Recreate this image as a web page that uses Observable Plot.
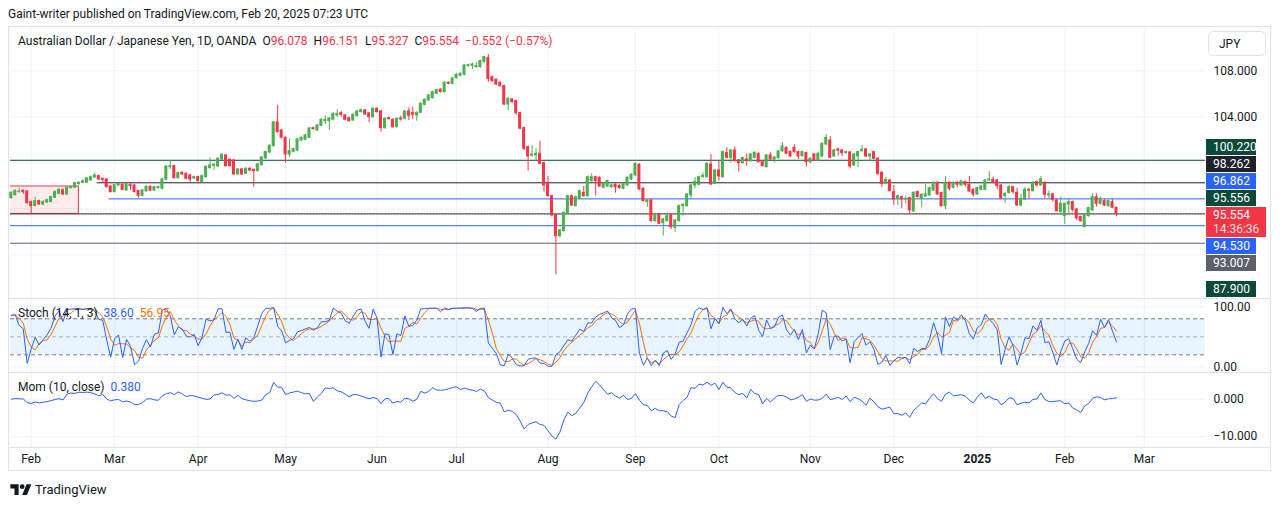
<!DOCTYPE html>
<html><head><meta charset="utf-8">
<script src="https://cdn.jsdelivr.net/npm/d3@7"></script>
<script src="https://cdn.jsdelivr.net/npm/@observablehq/plot@0.6"></script>
<style>
html,body{margin:0;padding:0;background:#fff;}
body{width:1281px;height:508px;position:relative;overflow:hidden;font-family:Roboto,"Noto Sans",sans-serif;color:#131722;font-size:12px;}
.abs{position:absolute;white-space:nowrap;}
.pane{position:absolute;left:0;}
.sep{position:absolute;height:1px;background:#e0e3eb;}
.lbl{position:absolute;left:1206px;color:#fff;font-size:12px;line-height:16px;padding-left:7px;box-sizing:border-box;}
.red{color:#f23645}
.sp{margin-left:6px}
</style></head><body>
<div class="abs" style="left:8px;top:6px;font-size:12px;line-height:16px;">Gaint-writer published on TradingView.com, Feb 20, 2025 07:23 UTC</div>
<div class="abs" style="left:8px;top:26px;width:1263px;height:445px;border:1px solid #e0e3eb;box-sizing:border-box;"></div>
<div id="panes"></div>
<div id="overlay"></div>
<script>
// ---------- DATA (daily bars, AUD/JPY, OANDA, from 2024-01-25 to 2025-02-20) ----------
const opens = [
96.93,97.19,97.45,97.57,97.51,96.58,96.23,96.67,96.38,96.55,
96.58,96.96,97.30,97.62,97.25,97.80,97.83,98.14,98.26,98.26,
98.46,98.72,98.84,98.61,98.55,97.94,97.45,98.03,98.09,97.59,
98.06,98.03,97.54,97.13,97.51,97.91,97.59,97.80,97.74,98.52,
99.62,99.71,98.67,99.13,99.04,98.90,98.64,98.75,98.32,98.75,
99.54,99.74,99.68,100.29,100.64,100.26,100.20,98.99,99.42,99.04,
99.48,99.39,99.28,99.80,100.38,100.90,101.45,103.51,102.81,102.17,
100.72,100.96,101.07,101.94,102.00,102.17,103.01,102.81,103.22,103.62,
103.62,103.74,104.12,104.32,104.12,103.88,103.68,104.06,104.41,104.55,
104.29,103.97,104.70,104.46,103.01,103.88,103.74,103.10,103.86,103.83,
104.46,104.32,104.12,104.35,105.04,105.42,105.62,106.00,106.35,106.15,
106.96,106.87,107.36,107.57,107.65,108.41,108.44,108.32,108.32,108.75,
109.10,107.45,107.22,106.96,106.67,105.07,105.51,105.36,104.32,103.01,
101.36,100.61,100.64,100.78,99.97,98.17,97.10,95.42,93.62,94.06,
95.57,97.10,96.23,96.87,97.39,97.10,98.41,98.75,98.70,97.83,
97.94,97.88,98.09,98.00,97.74,98.03,98.55,98.90,99.83,97.74,
96.58,96.72,94.93,95.48,94.75,94.93,95.42,94.35,94.93,96.23,
96.23,97.16,98.03,98.09,98.75,98.75,99.86,98.17,99.33,98.75,
100.84,100.43,101.07,100.20,99.97,100.29,100.14,100.43,100.78,100.06,
99.62,100.64,100.29,100.41,100.99,101.30,100.93,101.30,100.93,100.58,
100.84,100.06,100.72,100.20,100.55,101.59,101.94,100.55,101.16,101.07,
100.84,100.90,99.77,100.55,101.01,101.16,100.55,100.93,100.35,99.13,
98.17,98.46,97.45,96.87,97.01,96.81,96.93,95.77,97.45,96.87,
97.07,97.16,97.59,98.26,97.36,96.23,98.26,97.83,98.26,98.03,
98.32,98.09,97.65,97.25,97.65,97.65,98.46,98.52,98.46,98.03,
97.10,97.36,97.88,97.39,96.29,96.81,97.65,97.54,98.32,98.03,
98.26,97.16,97.25,96.72,95.71,95.36,96.38,96.58,95.94,95.28,
94.41,95.36,95.86,97.01,96.43,96.67,96.23,96.58,96.078];
const highs = [
97.48,97.65,97.80,97.65,97.59,96.67,97.01,96.75,96.72,96.84,
97.10,97.57,97.77,97.72,97.94,97.97,98.32,98.35,98.52,98.72,
98.84,99.10,98.93,98.67,98.61,98.00,98.12,98.26,98.17,98.26,
98.26,98.12,97.62,97.68,98.00,98.00,97.97,97.97,98.64,99.77,
100.20,99.80,99.19,99.22,99.13,98.99,98.84,98.84,98.93,99.74,
100.43,99.91,100.43,100.78,100.72,100.35,100.29,99.51,99.51,99.57,
99.57,99.45,99.94,100.55,101.01,101.57,103.59,104.99,102.90,102.26,
102.09,101.28,102.12,102.26,102.46,103.07,103.10,103.33,103.83,104.09,
103.94,104.35,104.61,104.46,104.20,103.97,104.26,104.55,104.67,104.64,
104.38,104.78,104.78,104.55,103.91,103.97,103.83,103.91,104.06,104.55,
104.78,104.84,104.43,105.22,105.57,105.94,106.23,106.41,106.44,107.04,
107.04,107.42,107.74,107.83,108.55,108.58,108.67,108.70,108.93,109.28,
109.42,107.54,107.30,107.04,106.75,105.65,105.59,105.45,104.41,103.10,
101.45,101.51,101.22,101.88,100.06,98.81,97.19,95.51,94.20,95.74,
97.19,97.19,97.10,97.62,97.94,98.84,99.04,98.84,98.78,98.26,
98.49,98.12,98.17,98.09,98.26,98.78,99.04,100.00,99.91,97.83,
96.81,96.81,95.51,95.57,95.16,95.62,95.51,95.07,96.32,96.43,
97.33,98.12,98.70,98.84,99.13,100.00,100.72,99.42,100.14,101.01,
101.30,101.16,101.36,100.29,100.49,100.78,100.81,100.96,100.87,100.14,
100.72,100.87,100.55,101.07,101.77,101.39,101.01,101.57,101.01,101.01,
100.93,100.43,100.81,100.93,101.74,102.46,102.29,101.16,101.30,101.16,
101.01,100.99,100.81,101.01,101.51,101.25,100.81,101.01,100.43,99.22,
98.75,98.55,98.03,97.19,97.10,97.10,97.01,97.48,97.54,97.30,
98.12,97.88,98.35,98.35,97.45,98.81,98.35,98.35,98.35,98.46,
98.41,98.81,97.74,97.88,98.03,98.55,99.25,98.75,98.55,98.12,
97.39,98.03,97.97,97.80,97.25,97.88,97.80,98.38,98.41,98.81,
98.35,97.54,97.33,96.81,97.01,96.52,96.81,96.67,96.03,95.36,
95.51,96.14,97.30,97.30,97.01,96.81,96.75,96.81,96.151];
const lows = [
96.84,97.10,97.36,97.25,96.41,95.57,96.17,96.29,96.26,96.46,
96.52,96.90,97.22,97.16,97.13,97.71,97.77,98.06,98.17,98.20,
98.38,98.64,98.46,98.26,97.80,97.39,97.39,97.97,97.57,97.54,
97.59,97.39,96.93,97.04,97.45,97.51,97.51,97.71,97.65,98.46,
99.42,98.58,98.58,98.90,98.52,98.26,98.55,98.32,98.26,98.67,
99.45,99.33,99.59,100.20,99.62,99.62,98.90,98.90,98.90,98.96,
99.25,97.88,99.19,99.71,100.29,100.81,101.36,102.58,102.09,99.97,
100.49,100.87,100.99,101.86,101.91,102.09,102.84,102.72,103.13,103.33,
102.81,103.65,103.97,103.97,103.65,103.54,103.59,103.97,104.32,104.12,
103.48,103.88,104.32,102.67,102.93,103.71,103.01,103.01,103.62,103.74,
103.68,103.74,103.62,104.26,104.96,105.33,105.54,105.91,106.06,106.06,
106.78,106.78,107.28,107.48,107.57,108.32,108.12,108.23,108.23,108.67,
107.01,107.01,106.72,106.58,104.99,104.55,105.19,104.12,102.87,101.07,
99.28,100.49,100.20,99.83,97.45,97.01,95.33,90.26,93.45,93.97,
95.48,96.20,96.14,96.78,97.01,97.01,98.32,97.10,97.86,97.74,
97.86,97.80,97.36,97.71,97.65,97.94,98.46,98.81,97.59,96.58,
96.14,94.84,94.84,94.61,93.62,94.84,94.20,93.97,94.84,95.36,
96.14,96.81,97.74,98.00,98.67,98.67,98.03,98.09,98.41,98.67,
100.35,99.97,100.06,99.19,99.88,99.71,100.06,100.35,99.97,99.62,
99.54,100.20,100.00,100.32,100.90,100.70,100.43,100.84,100.29,100.49,
99.62,99.91,100.12,100.12,100.46,101.51,100.35,100.46,100.58,100.55,
100.75,99.48,99.68,99.57,100.93,100.46,100.14,100.26,98.90,97.83,
98.09,97.45,96.29,96.29,96.00,96.43,95.57,95.68,96.93,96.09,
96.99,97.07,97.51,97.16,96.14,95.91,97.54,97.74,97.83,97.94,
97.88,97.42,97.01,97.16,97.57,97.57,98.38,98.17,97.68,96.78,
96.49,97.30,97.25,96.20,96.14,96.72,96.87,97.45,97.88,97.94,
96.87,96.87,96.58,95.71,95.62,94.64,95.57,95.71,94.99,94.84,
94.32,95.28,95.77,96.14,96.35,96.20,96.14,96.00,95.327];
const closes = [
97.39,97.54,97.50,97.45,96.49,96.23,96.67,96.38,96.58,96.75,
97.01,97.45,97.65,97.25,97.83,97.88,98.23,98.26,98.38,98.64,
98.75,98.90,98.55,98.52,97.88,97.45,98.06,98.17,97.65,98.17,
97.97,97.45,97.13,97.59,97.91,97.59,97.88,97.88,98.55,99.68,
99.71,98.67,99.10,98.99,98.61,98.55,98.75,98.41,98.84,99.65,
99.77,99.83,100.35,100.70,99.71,99.71,98.99,99.42,98.99,99.48,
99.33,99.28,99.86,100.46,100.93,101.48,103.51,102.67,102.17,100.72,
101.01,101.19,102.03,102.17,102.38,102.99,102.93,103.25,103.74,103.74,
103.86,104.26,104.26,104.17,103.74,103.62,104.17,104.46,104.58,104.20,
103.97,104.70,104.41,103.01,103.83,103.80,103.10,103.83,103.77,104.46,
104.09,104.17,104.35,105.13,105.48,105.86,106.15,106.32,106.15,106.96,
106.87,107.33,107.65,107.74,108.46,108.49,108.55,108.41,108.84,109.19,
107.30,107.10,106.81,106.67,105.07,105.57,105.28,104.32,102.96,101.22,
100.55,100.72,100.78,99.91,98.03,97.10,95.42,93.62,94.12,95.65,
97.10,96.29,97.01,97.54,97.10,98.75,98.75,98.41,97.94,98.17,
98.41,98.03,97.88,97.80,98.17,98.70,98.96,99.91,97.68,96.67,
96.72,94.93,95.42,94.70,95.07,95.36,94.41,94.99,96.23,96.35,
97.25,98.03,98.32,98.75,98.87,99.91,98.12,99.33,98.81,100.93,
100.43,101.07,100.14,99.97,100.41,100.20,100.72,100.87,100.06,99.71,
100.64,100.29,100.46,100.99,101.42,100.78,100.55,100.93,100.55,100.93,
100.06,100.35,100.20,100.78,101.65,102.17,100.43,101.07,101.07,100.84,
100.93,99.68,100.72,100.93,101.13,100.55,100.72,100.35,99.04,98.17,
98.52,97.54,96.81,97.10,96.81,96.87,95.86,97.39,97.01,97.22,
97.25,97.80,98.26,97.25,96.23,98.26,97.74,98.26,98.09,98.38,
98.09,97.51,97.25,97.80,97.94,98.46,98.55,98.32,97.97,96.87,
97.30,97.88,97.45,96.29,96.87,97.65,97.59,98.26,98.03,98.55,
97.22,97.25,96.78,95.80,96.43,96.43,96.58,95.91,95.17,94.93,
95.42,96.06,97.01,96.43,96.87,96.29,96.67,96.09,95.554];

const firstDay = "2024-01-25";
const holidays = ["2024-12-25", "2025-01-01"];
const monthNames = ["Jan","Feb","Mar","Apr","May","Jun","Jul","Aug","Sep","Oct","Nov","Dec"];

// horizontal levels drawn on the chart
const levelPrices = [100.220, 98.262, 96.862, 95.556, 94.530, 93.007, 87.900];
const levelColors = ["#0b4a3a", "#1e222d", "#2962ff", "#0b4a3a", "#2962ff", "#5d606b", "#0b4a3a"];
const levelStartDay = [null, "2024-02-23", "2024-02-28", null, null, null, null];
const zoneHigh = 97.94, zoneLow = 95.556, zoneEndDay = "2024-02-19";
const lastPrice = 95.554, countdown = "14:36:36";
const gridPrices = [92, 96, 100, 104, 108];
const priceTicks = [104, 108];
const stochLevels = [80, 50, 20];
const stochTicks = [0, 100];
const momTicks = [0, -10];
const legendMain = {name: "Australian Dollar / Japanese Yen, 1D, OANDA", O: "96.078", H: "96.151", L: "95.327", C: "95.554", chg: "\u22120.552 (\u22120.57%)"};
const legendStoch = {name: "Stoch (14, 1, 3)", k: "38.60", d: "56.95"};
const legendMom = {name: "Mom (10, close)", v: "0.380"};

// ---------- build ----------
const W = 1281, UP = "#4caf50", DOWN = "#f23645", GRID = "#f0f3fa", BLUE = "#2962ff", ORANGE = "#ff6d00";
const dates = [];
{
  const d = new Date(firstDay + "T00:00:00Z");
  while (dates.length < 305) {
    const wd = d.getUTCDay(), iso = d.toISOString().slice(0, 10);
    if (wd !== 0 && wd !== 6 && !holidays.includes(iso)) dates.push(iso);
    d.setUTCDate(d.getUTCDate() + 1);
  }
}
const idxOf = iso => dates.indexOf(iso);
const xDomain = [-0.2, 300.4];
const bars = closes.map((c, k) => ({i: k, o: opens[k], h: highs[k], l: lows[k], c, col: c >= opens[k] ? UP : DOWN}));
const monthTicks = [];
for (let k = 1; k < dates.length; k++) {
  const m = +dates[k].slice(5, 7), pm = +dates[k - 1].slice(5, 7);
  if (m !== pm && k <= xDomain[1]) monthTicks.push({i: k, label: m === 1 ? dates[k].slice(0, 4) : monthNames[m - 1], year: m === 1});
}
// indicators from the bars
const K = closes.map((c, k) => {
  const s = Math.max(0, k - 13);
  const hh = d3.max(highs.slice(s, k + 1)), ll = d3.min(lows.slice(s, k + 1));
  return 100 * (c - ll) / (hh - ll);
});
const D = K.map((v, k) => d3.mean(K.slice(Math.max(0, k - 2), k + 1)));
const MOM = closes.map((c, k) => c - closes[Math.max(0, k - 10)]);
const ind = closes.map((c, k) => ({i: k, k: K[k], d: D[k], m: MOM[k]}));

const levels = levelPrices.map((p, j) => ({price: p, color: levelColors[j], start: levelStartDay[j] ? idxOf(levelStartDay[j]) + 0.6 : -5, end: xDomain[1]}));
const zone = [{start: -5, end: idxOf(zoneEndDay) + 0.0, low: zoneLow, high: zoneHigh}];

const style = {fontFamily: "Roboto, 'Noto Sans', sans-serif", fontSize: "12px", color: "#131722", background: "transparent", overflow: "visible"};
const common = {width: W, marginLeft: 10, marginRight: 76, marginTop: 0, marginBottom: 0, style, x: {domain: xDomain, axis: null}, color: {type: "identity"}};

const main = Plot.plot({
  ...common, height: 270,
  y: {domain: [88.2, 111.678], axis: null},
  marks: [
    Plot.ruleY(gridPrices, {stroke: GRID}),
    Plot.ruleX(monthTicks, {x: "i", stroke: GRID}),
    Plot.rect(zone, {x1: "start", x2: "end", y1: "low", y2: "high", fill: "#f23645", fillOpacity: 0.1, stroke: "#f23645", strokeWidth: 1, clip: true}),
    Plot.ruleY(levels, {y: "price", x1: "start", x2: "end", stroke: "color", strokeWidth: 1, clip: true}),
    Plot.ruleY([lastPrice], {stroke: "#f23645", strokeDasharray: "1,2"}),
    Plot.ruleX(bars, {x: "i", y1: "l", y2: "h", stroke: "col", strokeWidth: 1}),
    Plot.rect(bars, {x1: d => d.i - 0.38, x2: d => d.i + 0.38, y1: "o", y2: "c", fill: "col", insetTop: -0.5, insetBottom: -0.5}),
    Plot.axisY({anchor: "right", ticks: priceTicks, tickFormat: d3.format(".3f"), tickSize: 0, tickPadding: 8, label: null, fill: "#131722"})
  ]
});
const band = [{lo: 20, hi: 80}];
const stoch = Plot.plot({
  ...common, height: 74,
  y: {domain: [-9.5, 113.83], axis: null},
  marks: [
    Plot.ruleY(stochTicks, {stroke: GRID}),
    Plot.ruleX(monthTicks, {x: "i", stroke: GRID}),
    Plot.rect(band, {y1: "lo", y2: "hi", fill: "#2196f3", fillOpacity: 0.1}),
    Plot.ruleY(stochLevels, {stroke: d => d === 50 ? "#b2b5be" : "#787b86", strokeDasharray: "4,3"}),
    Plot.lineY(ind, {x: "i", y: "d", stroke: ORANGE, strokeWidth: 1}),
    Plot.lineY(ind, {x: "i", y: "k", stroke: BLUE, strokeWidth: 1}),
    Plot.axisY({anchor: "right", ticks: stochTicks, tickFormat: d3.format(".2f"), tickSize: 0, tickPadding: 8, label: null, fill: "#131722"})
  ]
});
const mom = Plot.plot({
  ...common, height: 74,
  y: {domain: [-12.95, 6.89], axis: null},
  marks: [
    Plot.ruleY(momTicks, {stroke: GRID}),
    Plot.ruleX(monthTicks, {x: "i", stroke: GRID}),
    Plot.lineY(ind, {x: "i", y: "m", stroke: BLUE, strokeWidth: 1}),
    Plot.axisY({anchor: "right", ticks: momTicks, tickFormat: d3.format(".3f"), tickSize: 0, tickPadding: 8, label: null, fill: "#131722"})
  ]
});
const taxis = Plot.plot({
  ...common, height: 24,
  marks: [
    Plot.text(monthTicks.filter(t => !t.year), {x: "i", text: "label", frameAnchor: "middle", fill: "#131722"}),
    Plot.text(monthTicks.filter(t => t.year), {x: "i", text: "label", frameAnchor: "middle", fill: "#131722", fontWeight: "bold"})
  ]
});

const panes = document.getElementById("panes");
[[main, 28], [stoch, 298], [mom, 373], [taxis, 447]].forEach(([el, top]) => {
  const div = document.createElement("div");
  div.className = "pane"; div.style.top = top + "px";
  div.appendChild(el); panes.appendChild(div);
});

// separators
const ov = document.getElementById("overlay");
[298, 372, 447].forEach(y => {
  const s = document.createElement("div"); s.className = "sep";
  s.style.left = "9px"; s.style.width = "1262px"; s.style.top = y + "px"; ov.appendChild(s);
});

// price labels with TradingView-like stacking
const yMain = main.scale("y");
const lab = levelPrices.map((p, j) => ({price: p, color: levelColors[j], lines: [d3.format(".3f")(p)], h: 17}));
lab.push({price: lastPrice, color: "#f23645", lines: [d3.format(".3f")(lastPrice), countdown], h: 31, wide: true});
lab.sort((a, b) => b.price - a.price || a.h - b.h);
lab.forEach(l => l.ideal = 28 + yMain.apply(l.price));
let clusters = lab.map(l => ({items: [l]}));
const place = c => { const tot = d3.sum(c.items, d => d.h); c.tot = tot; c.top = d3.mean(c.items, d => d.ideal) - tot / 2; };
clusters.forEach(place);
let merged = true;
while (merged) {
  merged = false;
  for (let j = 0; j < clusters.length - 1; j++) {
    if (clusters[j].top + clusters[j].tot > clusters[j + 1].top) {
      clusters[j].items = clusters[j].items.concat(clusters[j + 1].items);
      clusters.splice(j + 1, 1); place(clusters[j]); merged = true; break;
    }
  }
}
clusters.forEach(c => {
  if (c.top + c.tot > 298) c.top = 298 - c.tot;
  if (c.top < 28) c.top = 28;
  let y = c.top;
  c.items.forEach(l => {
    const b = document.createElement("div"); b.className = "lbl";
    b.style.top = y + "px"; b.style.height = (l.h - 1) + "px"; b.style.width = (l.wide ? 60 : 50) + "px";
    b.style.background = l.color;
    b.innerHTML = l.lines.map((t, q) => `<div style="height:${q ? 14 : 16}px;line-height:${q ? 12 : 16}px;${q ? "color:rgba(255,255,255,0.85)" : ""}">${t}</div>`).join("");
    ov.appendChild(b); y += l.h;
  });
});

// legends
function addDiv(html, left, top, extra) {
  const d = document.createElement("div"); d.className = "abs";
  d.style.left = left + "px"; d.style.top = top + "px"; d.style.lineHeight = "16px";
  if (extra) d.style.cssText += extra;
  d.innerHTML = html; ov.appendChild(d); return d;
}
const lm = legendMain;
addDiv(`${lm.name}<span class="sp">O</span><span class="red">${lm.O}</span><span class="sp">H</span><span class="red">${lm.H}</span><span class="sp">L</span><span class="red">${lm.L}</span><span class="sp">C</span><span class="red">${lm.C}</span><span class="sp red">${lm.chg}</span>`, 18, 33, "font-size:12px;");
addDiv(`${legendStoch.name}<span class="sp" style="color:${BLUE}">${legendStoch.k}</span><span class="sp" style="color:${ORANGE}">${legendStoch.d}</span>`, 18, 305);
addDiv(`${legendMom.name}<span class="sp" style="color:${BLUE}">${legendMom.v}</span>`, 18, 379);
addDiv(`JPY`, 1208, 31, "width:58px;height:25px;line-height:25px;border:1px solid #e0e3eb;border-radius:5px;box-sizing:border-box;padding-left:10px;font-size:12px;");
addDiv(`<svg width="22" height="13" viewBox="0 0 36 22" style="vertical-align:-1px"><path d="M14 22H7V11H0V4h14v18z M28 22h-8l7.5-18h8z" fill="#131722"/><circle cx="20" cy="8" r="4" fill="#131722"/></svg><span style="margin-left:3px;font-size:13px">TradingView</span>`, 10, 482);
</script>
</body></html>
